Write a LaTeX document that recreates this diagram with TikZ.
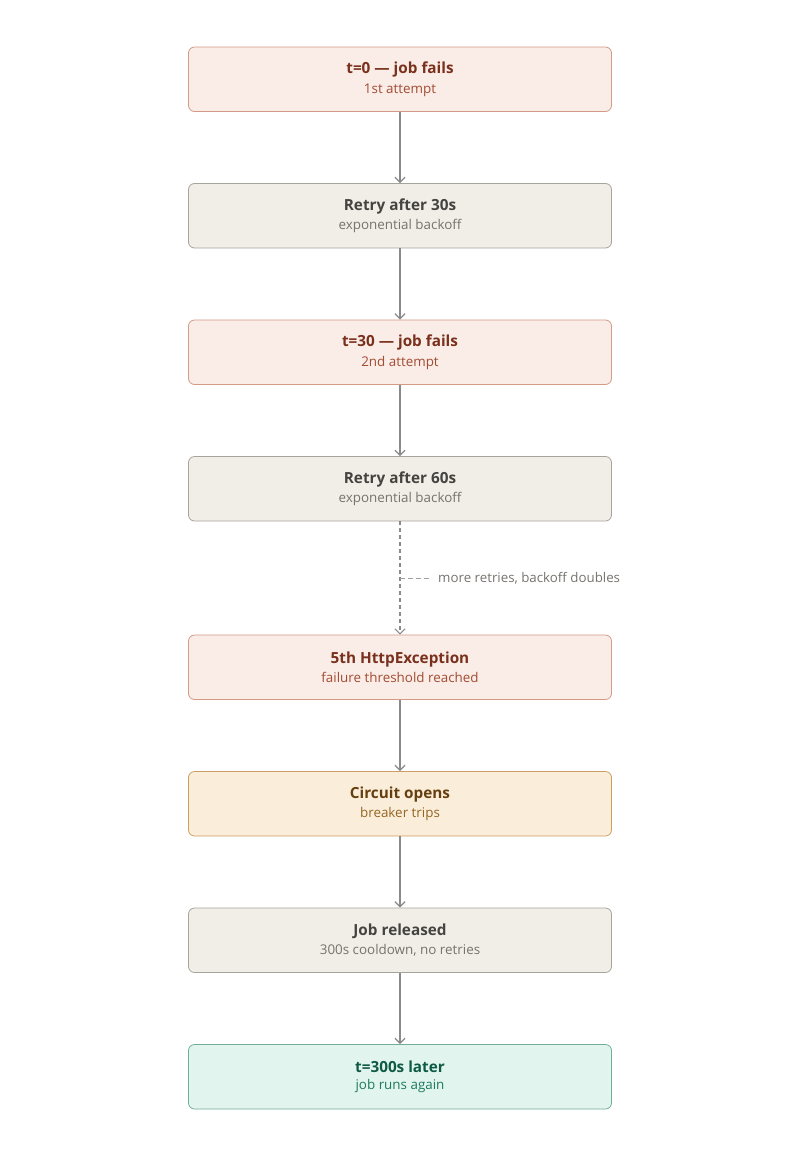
\documentclass[tikz,border=0pt]{standalone}
\usepackage{fontspec}
\setmainfont{Open Sans}
\usetikzlibrary{positioning,arrows.meta,calc}
\definecolor{failfill}{HTML}{FAECE7}
\definecolor{failline}{HTML}{D39A86}
\definecolor{failtitle}{HTML}{79301C}
\definecolor{failsub}{HTML}{A24C33}
\definecolor{waitfill}{HTML}{F1EEE8}
\definecolor{waitline}{HTML}{A7A39D}
\definecolor{waittitle}{HTML}{454340}
\definecolor{waitsub}{HTML}{76736E}
\definecolor{tripfill}{HTML}{FAEEDA}
\definecolor{tripline}{HTML}{CC9E62}
\definecolor{triptitle}{HTML}{663F10}
\definecolor{tripsub}{HTML}{946624}
\definecolor{okfill}{HTML}{E1F5EE}
\definecolor{okline}{HTML}{72AE96}
\definecolor{oktitle}{HTML}{0F5A45}
\definecolor{oksub}{HTML}{1D7A5D}
\definecolor{flowgray}{HTML}{8A8A8A}
\newcommand{\stage}[3]{{\fontsize{15.3}{18}\selectfont\bfseries #1}\\[5pt]%
  {\fontsize{13.4}{15}\selectfont\color{#2}#3}}
\tikzset{
  box/.style={rounded corners=6pt, minimum width=423pt, minimum height=64.5pt,
    align=center, line width=0.8pt, inner sep=0pt},
  fail/.style={box, fill=failfill, draw=failline, text=failtitle},
  wait/.style={box, fill=waitfill, draw=waitline, text=waittitle},
  trip/.style={box, fill=tripfill, draw=tripline, text=triptitle},
  ok/.style={box, fill=okfill, draw=okline, text=oktitle},
  flow/.style={draw=flowgray, line width=1.3pt, -{Straight Barb[length=5pt,width=10pt]}},
  more/.style={flow, dash pattern=on 4pt off 3pt, line width=1.1pt},
  leader/.style={draw=flowgray!80, dash pattern=on 5pt off 3pt, line width=0.8pt}
}
\begin{document}
\begin{tikzpicture}[x=1pt, y=1pt, node distance=71.2pt]
  \useasboundingbox (0, 0) rectangle (800, -1157);
  \node [fail] (t0) at (400, -79.25) {\stage{t=0 — job fails}{failsub}{1st attempt}};
  \node [wait, below=of t0] (r30) {\stage{Retry after 30s}{waitsub}{exponential backoff}};
  \node [fail, below=of r30] (t30) {\stage{t=30 — job fails}{failsub}{2nd attempt}};
  \node [wait, below=of t30] (r60) {\stage{Retry after 60s}{waitsub}{exponential backoff}};
  \node [fail, below=113.2pt of r60] (fifth) {\stage{5th HttpException}{failsub}{failure threshold reached}};
  \node [trip, below=of fifth] (open) {\stage{Circuit opens}{tripsub}{breaker trips}};
  \node [wait, below=of open] (rel) {\stage{Job released}{waitsub}{300s cooldown, no retries}};
  \node [ok, below=of rel] (later) {\stage{t=300s later}{oksub}{job runs again}};
  \draw [flow] (t0) -- (r30);
  \draw [flow] (r30) -- (t30);
  \draw [flow] (t30) -- (r60);
  \draw [more] (r60) -- (fifth);
  \draw [flow] (fifth) -- (open);
  \draw [flow] (open) -- (rel);
  \draw [flow] (rel) -- (later);
  % note beside the dashed step
  \coordinate (tip) at ($(r60.south)!0.5!(fifth.north)$);
  \node [right=38pt of tip, inner sep=0pt, anchor=west, text=waitsub,
    font=\fontsize{13.3}{15}\selectfont] (note) {more retries, backoff doubles};
  \draw [leader] (tip) -- ++(32, 0);
\end{tikzpicture}
\end{document}
